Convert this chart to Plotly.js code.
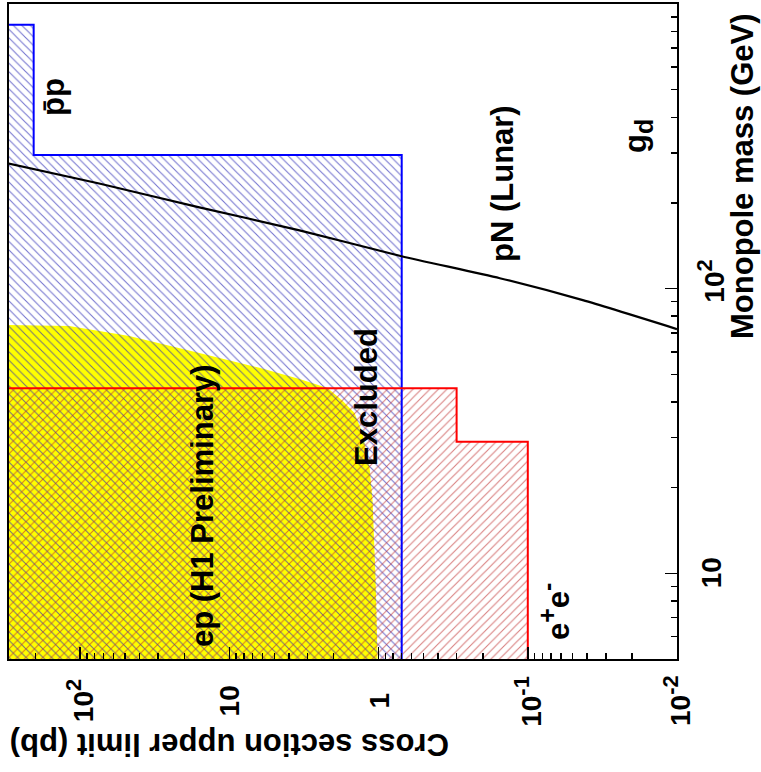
<!DOCTYPE html>
<html>
<head>
<meta charset="utf-8">
<script src="https://cdn.plot.ly/plotly-3.0.1.min.js"></script>
<style>html,body{margin:0;padding:0;background:#fff;}#chart{width:761px;height:772px;}</style>
</head>
<body>
<div id="chart"></div>
<script>
// ---- axis ranges ----
const sigmaMax = 300, sigmaMin = 0.01;   // cross section (pb), drawn horizontally (reversed)
const massMin = 5, massMax = 1000;       // monopole mass (GeV), drawn vertically

// ---- p-pbar (Tevatron) step limit ----
const ppbarMassEdges = [5, 295, 846];
const ppbarLimit = [0.7, 205];

// ---- e+e- step limit ----
const eeMassEdges = [5, 29, 44.7];
const eeLimit = [0.1, 0.3];

// ---- ep (H1 Preliminary) excluded region boundary ----
const h1Mass  = [5.0, 9.45, 18.0, 23.5, 30.9, 36.6, 40.4, 44.8, 48.2, 52.7, 59.4, 68.2, 73.9, 74.5];
const h1Sigma = [1.016, 1.047, 1.097, 1.149, 1.28, 1.45, 1.745, 2.20, 3.39, 6.29, 15.9, 46.9, 118.6, 300];

// ---- pN (Lunar) curve ----
const lunarSigma = [304, 74.6, 15.9, 3.39, 0.701, 0.154, 0.0428, 0.01];
const lunarMass  = [275.2, 234.1, 193.0, 160.3, 130.0, 108.8, 91.1, 72.1];

// ---- tick labels ----
const EXP = s => "10<sup><span style='font-size:22px'>" + s + "</span></sup>";
const sigmaTickVals = [100, 10, 1, 0.1, 0.01];
const sigmaTickText = [EXP("2"), "10", "1", EXP("-1"), EXP("-2")];
const massTickVals = [10, 100];
const massTickText = ["10", EXP("2")];

function stepOutline(edges, limits) {
  const xs = [limits[0], limits[0], limits[1], limits[1], sigmaMax];
  const ys = [edges[0], edges[1], edges[1], edges[2], edges[2]];
  return {x: xs, y: ys};
}
function stepFill(edges, limits) {
  const o = stepOutline(edges, limits);
  return {x: [sigmaMax].concat(o.x), y: [edges[0]].concat(o.y)};
}

const ppOut = stepOutline(ppbarMassEdges, ppbarLimit);
const ppFill = stepFill(ppbarMassEdges, ppbarLimit);
const eeOut = stepOutline(eeMassEdges, eeLimit);
const eeFill = stepFill(eeMassEdges, eeLimit);

const h1x = h1Sigma.concat([sigmaMax]);
const h1y = h1Mass.concat([massMin]);

const traces = [
  {x: h1x, y: h1y, mode: 'lines', fill: 'toself', fillcolor: '#ffff00',
   line: {width: 0, color: 'rgba(0,0,0,0)'}, hoverinfo: 'skip', showlegend: false},
  {x: ppFill.x, y: ppFill.y, mode: 'lines', fill: 'toself', fillcolor: 'rgba(0,0,0,0)',
   fillpattern: {shape: '\\', fgcolor: 'rgba(40,40,180,0.65)', bgcolor: 'rgba(0,0,0,0)', size: 6, solidity: 0.18},
   line: {width: 0, color: 'rgba(0,0,0,0)'}, hoverinfo: 'skip', showlegend: false},
  {x: eeFill.x, y: eeFill.y, mode: 'lines', fill: 'toself', fillcolor: 'rgba(0,0,0,0)',
   fillpattern: {shape: '/', fgcolor: 'rgba(190,40,40,0.6)', bgcolor: 'rgba(0,0,0,0)', size: 6, solidity: 0.18},
   line: {width: 0, color: 'rgba(0,0,0,0)'}, hoverinfo: 'skip', showlegend: false},
  {x: ppOut.x, y: ppOut.y, mode: 'lines', line: {color: '#0000ff', width: 2}, hoverinfo: 'skip', showlegend: false},
  {x: eeOut.x, y: eeOut.y, mode: 'lines', line: {color: '#ff0000', width: 2}, hoverinfo: 'skip', showlegend: false},
  {x: lunarSigma, y: lunarMass, mode: 'lines', line: {color: '#000000', width: 2.2, shape: 'spline', smoothing: 0.6},
   hoverinfo: 'skip', showlegend: false}
];

// minor ticks 2..9 per decade
function minorTicks(lo, hi) {
  const out = [];
  for (let e = lo; e < hi; e++) for (let k = 2; k <= 9; k++) out.push(k * Math.pow(10, e));
  return out;
}

// plot area in pixels: x 9..677, y 4..659
const L = 9, R = 677, T = 4, B = 659;
const px = X => (X - L) / (R - L);
const py = Y => (B - Y) / (B - T);

const FONT = 'Liberation Sans, Arial, Helvetica, sans-serif';
const ann = [];
function txt(text, X, Y, size, angle) {
  ann.push({text: text, xref: 'paper', yref: 'paper', x: px(X), y: py(Y), showarrow: false,
            textangle: angle, xanchor: 'center', yanchor: 'middle',
            font: {family: FONT, size: size, color: '#000', weight: 'bold'}});
}
// tick labels
sigmaTickVals.forEach((v, i) => {
  ann.push({text: sigmaTickText[i], xref: 'x', yref: 'paper', x: Math.log10(v), y: py(701),
            showarrow: false, textangle: -90, xanchor: 'center', yanchor: 'middle',
            font: {family: FONT, size: 28, color: '#000', weight: 'bold'}});
});
massTickVals.forEach((v, i) => {
  ann.push({text: massTickText[i], xref: 'paper', yref: 'y', x: px(711), y: Math.log10(v),
            showarrow: false, textangle: -90, xanchor: 'center', yanchor: 'middle', yshift: i === 1 ? 8 : 1,
            font: {family: FONT, size: 28, color: '#000', weight: 'bold'}});
});
// axis titles
txt('Monopole mass (GeV)', 742, 176, 31, -90);
txt('Cross section upper limit (pb)', 230, 745, 31, 180);
// labels in the plot
txt('p\u0304p', 53, 97, 31, -90);
txt('pN (Lunar)', 502, 184, 31, -90);
txt("g<sub><span style='font-size:25px'>d</span></sub>", 638, 136, 31, -90);
txt('Excluded', 366, 397, 31, -90);
txt('ep (H1 Preliminary)', 202, 505, 31, -90);
txt("e<sup><span style='font-size:25px'>+</span></sup>e<sup><span style='font-size:25px'>-</span></sup>", 554, 612, 31, -90);

const axisCommon = {
  type: 'log', showgrid: false, zeroline: false, showline: true, mirror: true,
  linecolor: '#000', linewidth: 2, ticks: 'inside', ticklen: 12, tickwidth: 1.5, tickcolor: '#000',
  tickmode: 'array', showticklabels: false, fixedrange: true
};

const layout = {
  width: 761, height: 772,
  margin: {l: L, r: 761 - R, t: T, b: 772 - B, pad: 0},
  paper_bgcolor: '#fff', plot_bgcolor: '#fff',
  showlegend: false,
  xaxis: Object.assign({}, axisCommon, {
    range: [Math.log10(sigmaMax), Math.log10(sigmaMin)],
    tickvals: sigmaTickVals,
    minor: {ticks: 'inside', ticklen: 6, tickwidth: 1.5, tickcolor: '#000', tickmode: 'array',
            tickvals: minorTicks(-2, 3), showgrid: false}
  }),
  yaxis: Object.assign({}, axisCommon, {
    side: 'right',
    range: [Math.log10(massMin), Math.log10(massMax)],
    tickvals: massTickVals,
    minor: {ticks: 'inside', ticklen: 6, tickwidth: 1.5, tickcolor: '#000', tickmode: 'array',
            tickvals: minorTicks(0, 3), showgrid: false}
  }),
  annotations: ann
};

Plotly.newPlot('chart', traces, layout, {staticPlot: true, displayModeBar: false});
</script>
</body>
</html>
